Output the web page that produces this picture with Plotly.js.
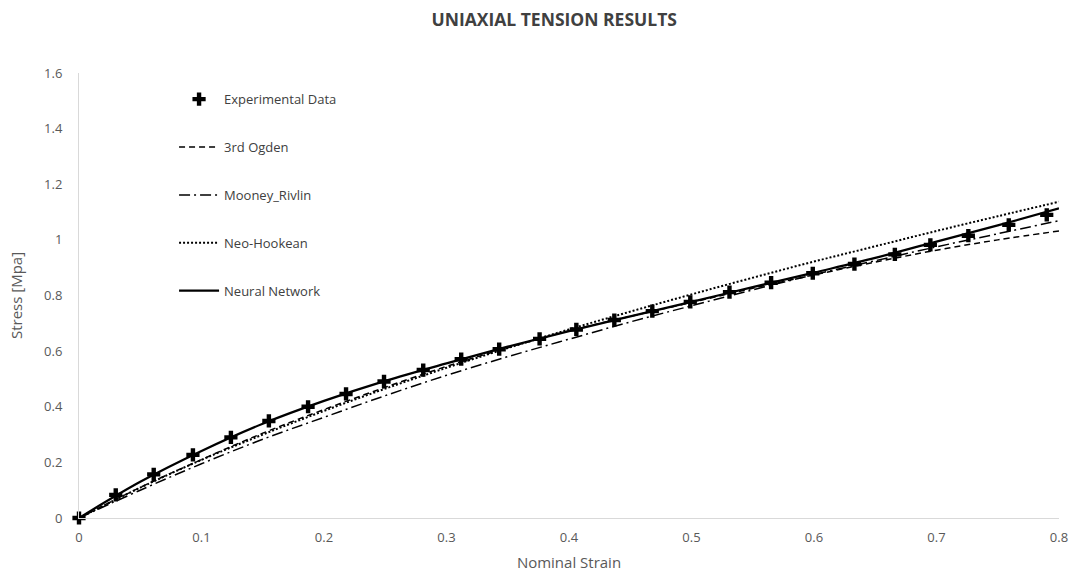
<!DOCTYPE html>
<html>
<head>
<meta charset="utf-8">
<script src="https://cdn.plot.ly/plotly-3.0.1.min.js"></script>
<style>html,body{margin:0;padding:0;background:#fff;}#chart{width:1074px;height:572px;}</style>
</head>
<body>
<div id="chart"></div>
<script>
const expStrain = [0, 0.030, 0.061, 0.093, 0.124, 0.155, 0.187, 0.218, 0.249, 0.281, 0.312, 0.343, 0.376, 0.406, 0.437, 0.468, 0.499, 0.531, 0.565, 0.599, 0.633, 0.666, 0.695, 0.726, 0.759, 0.790];
const expStress = [0, 0.083, 0.157, 0.227, 0.290, 0.349, 0.400, 0.446, 0.491, 0.532, 0.571, 0.607, 0.644, 0.678, 0.712, 0.744, 0.777, 0.812, 0.846, 0.880, 0.913, 0.948, 0.982, 1.015, 1.054, 1.090];

// Model curves sampled at these strains
const modelStrain = [0, 0.05, 0.1, 0.15, 0.2, 0.25, 0.3, 0.35, 0.4, 0.45, 0.5, 0.55, 0.6, 0.65, 0.7, 0.75, 0.8];
const ogden3 = [0, 0.110, 0.210, 0.305, 0.390, 0.470, 0.545, 0.612, 0.673, 0.725, 0.775, 0.826, 0.874, 0.920, 0.963, 1.000, 1.032];
const mooneyRivlin = [0, 0.100, 0.195, 0.283, 0.362, 0.440, 0.513, 0.580, 0.643, 0.705, 0.763, 0.820, 0.875, 0.925, 0.975, 1.022, 1.069];
const neoHookean = [0, 0.109, 0.209, 0.300, 0.385, 0.465, 0.540, 0.611, 0.678, 0.742, 0.804, 0.864, 0.922, 0.977, 1.032, 1.085, 1.137];
const neuralNet = [0, 0.130, 0.241, 0.339, 0.421, 0.493, 0.556, 0.616, 0.672, 0.725, 0.777, 0.830, 0.882, 0.935, 0.994, 1.052, 1.113];

const names = ['Experimental Data', '3rd Ogden', 'Mooney_Rivlin', 'Neo-Hookean', 'Neural Network'];
const xTicks = [0, 0.1, 0.2, 0.3, 0.4, 0.5, 0.6, 0.7, 0.8];
const yTicks = [0, 0.2, 0.4, 0.6, 0.8, 1, 1.2, 1.4, 1.6];

const traces = [
  {x: modelStrain, y: ogden3, name: names[1], mode: 'lines', type: 'scatter', legendgroup: 'b', legendrank: 2,
   line: {color: '#000', width: 1.5, dash: '6px,4px', shape: 'spline'}},
  {x: modelStrain, y: mooneyRivlin, name: names[2], mode: 'lines', type: 'scatter', legendgroup: 'c', legendrank: 3,
   line: {color: '#000', width: 1.5, dash: '11px,4px,2px,4px', shape: 'spline'}},
  {x: modelStrain, y: neoHookean, name: names[3], mode: 'lines', type: 'scatter', legendgroup: 'd', legendrank: 4,
   line: {color: '#000', width: 2, dash: '2px,2px', shape: 'spline'}},
  {x: modelStrain, y: neuralNet, name: names[4], mode: 'lines', type: 'scatter', legendgroup: 'e', legendrank: 5,
   line: {color: '#000', width: 2.25, shape: 'spline'}},
  {x: expStrain, y: expStress, name: names[0], mode: 'markers', type: 'scatter', legendgroup: 'a', legendrank: 1,
   cliponaxis: false, marker: {symbol: 'cross', size: 11, color: '#000'}}
];

const layout = {
  width: 1074, height: 572,
  margin: {l: 79, r: 15, t: 73, b: 54},
  paper_bgcolor: '#fff', plot_bgcolor: '#fff',
  font: {family: 'Open Sans, sans-serif', color: '#595959', size: 13},
  title: {text: 'UNIAXIAL TENSION RESULTS', x: 0.516, xref: 'container', xanchor: 'center',
          y: 0.966, yref: 'container', yanchor: 'middle',
          font: {family: 'Open Sans, sans-serif', size: 17.5, color: '#404040', weight: 'bold'}},
  xaxis: {range: [0, 0.8], tickvals: xTicks, showgrid: false, zeroline: false, showline: true,
          linecolor: '#d9d9d9', linewidth: 1, ticks: '', ticklabelstandoff: 7,
          tickfont: {size: 13, color: '#595959'},
          title: {text: 'Nominal Strain', standoff: 13, font: {size: 15, color: '#595959'}}},
  yaxis: {range: [0, 1.6], tickvals: yTicks, showgrid: false, zeroline: false, showline: true,
          linecolor: '#d9d9d9', linewidth: 1, ticks: '', ticklabelstandoff: 13,
          tickfont: {size: 13, color: '#595959'},
          title: {text: 'Stress [Mpa]', standoff: 17, font: {size: 15, color: '#595959'}}},
  showlegend: true,
  legend: {x: 0.097, y: 0.975, xanchor: 'left', yanchor: 'top', bgcolor: 'rgba(0,0,0,0)',
           traceorder: 'grouped', tracegroupgap: 28, itemwidth: 40,
           font: {size: 13, color: '#404040'}}
};

Plotly.newPlot('chart', traces, layout, {displayModeBar: false, staticPlot: true});
</script>
</body>
</html>
